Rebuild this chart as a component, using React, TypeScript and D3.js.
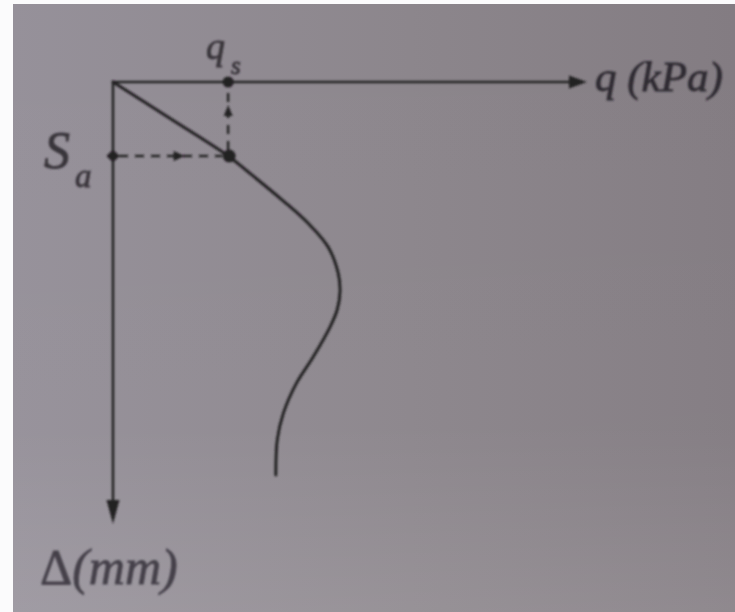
import React from "react";
import * as d3 from "d3";

// Load–settlement curve (schematic): load q (kPa) vs. settlement Δ (mm)
const loadQ = [0, 1.22, 2.44, 2.86, 3.58, 4.13, 4.56, 4.77, 4.81, 4.75, 4.6, 4.24, 3.89, 3.61, 3.48, 3.45];
const settlement = [0, 0.84, 1.69, 2.05, 2.69, 3.22, 3.77, 4.36, 4.78, 5.2, 5.59, 6.28, 6.87, 7.56, 8.17, 8.97];

// Allowable settlement S_a and the matching load q_s
const allowableSettlement = [1.69];
const serviceLoad = [2.44];

const axisLabels = ["q (kPa)", "Δ(mm)"];

const W = 735;
const H = 612;
const SERIF = '"Liberation Serif", "Times New Roman", Times, "DejaVu Serif", serif';

export default function App() {
  const x = d3.scaleLinear().domain([0, 10]).range([113, 585]);
  const y = d3.scaleLinear().domain([0, 10]).range([82, 520]);

  const pts: [number, number][] = loadQ.map((q, i) => [q, settlement[i]]);
  const line = d3
    .line<[number, number]>()
    .x((d) => x(d[0]))
    .y((d) => y(d[1]))
    .curve(d3.curveCatmullRom.alpha(0.5));

  const sa = allowableSettlement[0];
  const qs = serviceLoad[0];
  const x0 = x(0);
  const y0 = y(0);
  const xEnd = x(10);
  const yEnd = y(10);
  const ink = "#242024";
  const textInk = "#38343a";

  const midX = (x0 + x(qs)) / 2 + 8;
  const midY = (y0 + y(sa)) / 2 - 2;

  const txt = (extra: React.CSSProperties = {}): React.CSSProperties => ({
    fontFamily: SERIF,
    ...extra,
  });

  return (
    <svg
      width={W}
      height={H}
      style={{ position: "absolute", left: 0, top: 0, display: "block" }}
    >
      <defs>
        <linearGradient id="bgH" x1="0" y1="0" x2="1" y2="0">
          <stop offset="0" stopColor="#96919a" />
          <stop offset="0.55" stopColor="#8c868c" />
          <stop offset="1" stopColor="#837c82" />
        </linearGradient>
        <linearGradient id="bgV" x1="0" y1="0" x2="0" y2="1">
          <stop offset="0" stopColor="#ffffff" stopOpacity="0" />
          <stop offset="0.7" stopColor="#ffffff" stopOpacity="0.02" />
          <stop offset="1" stopColor="#ffffff" stopOpacity="0.1" />
        </linearGradient>
        <filter id="soft" x="-5%" y="-5%" width="110%" height="110%">
          <feGaussianBlur stdDeviation="0.9" />
        </filter>
      </defs>

      <rect x={0} y={0} width={W} height={H} fill="#fbfbfc" />
      <rect x={13} y={4} width={W - 13} height={H - 4} fill="url(#bgH)" />
      <rect x={13} y={4} width={W - 13} height={H - 4} fill="url(#bgV)" />

      <g filter="url(#soft)">
        {/* q axis */}
        <line x1={x0} y1={y0} x2={xEnd - 4} y2={y0} stroke={ink} strokeWidth={2.6} />
        <path
          d={`M${xEnd + 2},${y0} L${xEnd - 16},${y0 - 6.5} L${xEnd - 16},${y0 + 6.5} Z`}
          fill={ink}
        />
        {/* Δ axis */}
        <line x1={x0} y1={y0 - 1.3} x2={x0} y2={yEnd - 4} stroke={ink} strokeWidth={2.6} />
        <path
          d={`M${x0},${yEnd + 4} L${x0 - 6.5},${yEnd - 20} L${x0 + 6.5},${yEnd - 20} Z`}
          fill={ink}
        />

        {/* curve */}
        <path d={line(pts) ?? ""} fill="none" stroke={ink} strokeWidth={3} strokeLinecap="round" />

        {/* projection of S_a onto the curve and up to q_s */}
        <line
          x1={x0 + 6}
          y1={y(sa)}
          x2={x(qs) - 6}
          y2={y(sa)}
          stroke={ink}
          strokeWidth={2.4}
          strokeDasharray="9 7"
        />
        <path d={`M${midX + 6},${y(sa)} L${midX - 5},${y(sa) - 5} L${midX - 5},${y(sa) + 5} Z`} fill={ink} />
        <line
          x1={x(qs)}
          y1={y(sa) - 6}
          x2={x(qs)}
          y2={y0 + 6}
          stroke={ink}
          strokeWidth={2.4}
          strokeDasharray="9 7"
        />
        <path d={`M${x(qs)},${midY - 12} L${x(qs) - 4.5},${midY - 1} L${x(qs) + 4.5},${midY - 1} Z`} fill={ink} />

        <circle cx={x(qs)} cy={y0} r={5.5} fill={ink} />
        <path
          d={`M${x0},${y(sa) - 6.5} L${x0 + 6.5},${y(sa)} L${x0},${y(sa) + 6.5} L${x0 - 6.5},${y(sa)} Z`}
          fill={ink}
        />
        <circle cx={x(qs) + 1} cy={y(sa)} r={6.5} fill={ink} />

        {/* labels */}
        <g fill={textInk} stroke={textInk} strokeWidth={0.8}>
          <text x={206} y={59} fontSize={38} style={txt({ fontStyle: "italic" })}>
            q
          </text>
          <text x={231} y={74} fontSize={25} style={txt({ fontStyle: "italic" })}>
            s
          </text>
          <text x={44} y={168} fontSize={52} style={txt({ fontStyle: "italic" })}>
            S
          </text>
          <text x={75} y={187} fontSize={33} style={txt({ fontStyle: "italic" })}>
            a
          </text>
          <text x={595} y={91} fontSize={43} style={txt({ fontStyle: "italic" })} fill="#2e2a31" stroke="#2e2a31">
            {axisLabels[0]}
          </text>
          <text x={40} y={584} fontSize={50} style={txt()} fill="#45414a" stroke="#45414a">
            <tspan>{axisLabels[1].slice(0, 1)}</tspan>
            <tspan style={{ fontStyle: "italic" }}>{axisLabels[1].slice(1)}</tspan>
          </text>
        </g>
      </g>
    </svg>
  );
}
